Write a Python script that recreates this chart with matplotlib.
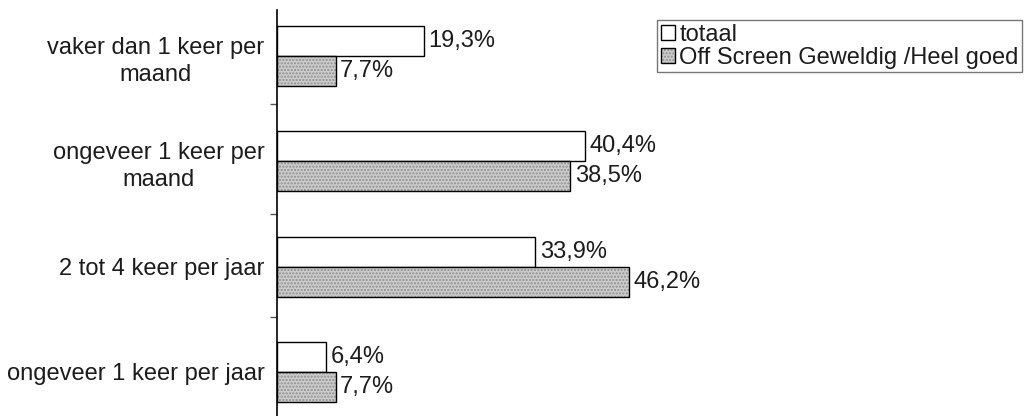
import matplotlib
matplotlib.use("Agg")
import matplotlib.pyplot as plt
from matplotlib.legend_handler import HandlerTuple
import numpy as np

categories = ["vaker dan 1 keer per\nmaand", "ongeveer 1 keer per\nmaand",
              "2 tot 4 keer per jaar", "ongeveer 1 keer per jaar"]
totaal = [19.3, 40.4, 33.9, 6.4]
offscreen = [7.7, 38.5, 46.2, 7.7]
series_names = ["totaal", "Off Screen Geweldig /Heel goed"]

plt.rcParams['font.family'] = ['Liberation Sans', 'DejaVu Sans']
FS = 17
TC = '#1c1c1c'

fig = plt.figure(figsize=(10.30, 4.16), dpi=100)
ax = fig.add_axes([277/1030, 0.0, 457/1030, (416-10)/416])

y = np.arange(len(categories))
h = 0.285
b1 = ax.barh(y - h/2, totaal, height=h, color='white', edgecolor='black', linewidth=1.0)
b2f = ax.barh(y + h/2, offscreen, height=h, color='#cbcbcb', edgecolor='#8f8f8f',
              linewidth=0, hatch='.....')
b2e = ax.barh(y + h/2, offscreen, height=h, fill=False, edgecolor='black', linewidth=1.0)

for yi, v in zip(y - h/2, totaal):
    ax.text(v + 0.6, yi, f"{v:.1f}%".replace('.', ','), va='center', ha='left',
            fontsize=FS, color=TC)
for yi, v in zip(y + h/2, offscreen):
    ax.text(v + 0.6, yi, f"{v:.1f}%".replace('.', ','), va='center', ha='left',
            fontsize=FS, color=TC)

ax.set_xlim(0, 60)
ax.set_ylim(3.42, -0.44)
ax.set_yticks(y)
ax.set_yticklabels(categories, fontsize=FS, color=TC, multialignment='center',
                   linespacing=1.3)
ax.tick_params(axis='y', which='major', length=0, pad=9)
ax.set_yticks([0.45, 1.5, 2.48], minor=True)
ax.tick_params(axis='y', which='minor', length=5, width=1, color='#555555')
ax.set_xticks([])
for s in ['top', 'right', 'bottom']:
    ax.spines[s].set_visible(False)
ax.spines['left'].set_linewidth(1.2)

leg = fig.legend([b1, (b2f, b2e)], series_names, loc='upper left',
                 bbox_to_anchor=(657/1030, 1 - 20/416), fontsize=FS,
                 handler_map={tuple: HandlerTuple(ndivide=1)},
                 handlelength=0.6, handleheight=0.6, handletextpad=0.2,
                 borderpad=0.15, labelspacing=0.05, frameon=True, fancybox=False,
                 borderaxespad=0)
for t in leg.get_texts():
    t.set_color(TC)
leg.get_frame().set_edgecolor('#555555')
leg.get_frame().set_linewidth(1.0)

fig.savefig("out.png", dpi=100)
